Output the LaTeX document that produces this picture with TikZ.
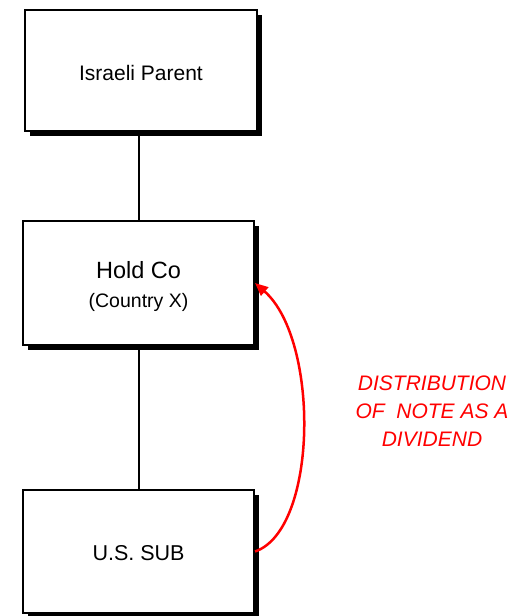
\documentclass[tikz,border=0pt]{standalone}
\usepackage{fontspec}
\setmainfont{Liberation Sans}
\usetikzlibrary{shadows,arrows.meta}
\begin{document}
\begin{tikzpicture}[x=1pt,y=-1pt,
  entity/.style={draw=black, line width=2pt, fill=white, rectangle, inner sep=0pt, align=center,
    drop shadow={shadow xshift=5pt, shadow yshift=-5pt, fill=black, opacity=1}},
  link/.style={draw=black, line width=2pt},
  dividend/.style={draw=red, line width=2.5pt, -{Triangle[length=13pt,width=11pt]}},
  note/.style={text=red, align=center, font=\fontsize{21}{28}\selectfont\itshape}]
\useasboundingbox (0,0) rectangle (516,616);
\node[entity, minimum width=232pt, minimum height=121pt, font=\fontsize{21}{25}\selectfont, text height=20pt] (parent) at (141,70.5) {Israeli Parent};
\node[entity, minimum width=231pt, minimum height=124pt, font=\fontsize{23.5}{29}\selectfont, text height=54pt] (hold) at (138.5,283)
  {Hold Co\\{\fontsize{19.5}{29}\selectfont (Country X)}};
\node[entity, minimum width=231pt, minimum height=123pt, font=\fontsize{21.5}{25}\selectfont, text height=19pt] (sub) at (138.5,551.5) {U.S. SUB};
\draw[link] (hold.north) -- (hold.north |- parent.south);
\draw[link] (sub.north) -- (hold.south);
\draw[dividend] (sub.east) .. controls (318,530) and (320,340) .. (hold.east);
\node[note] (label) at (432,411) {DISTRIBUTION\\OF\ \ NOTE AS A\\DIVIDEND};
\end{tikzpicture}
\end{document}
